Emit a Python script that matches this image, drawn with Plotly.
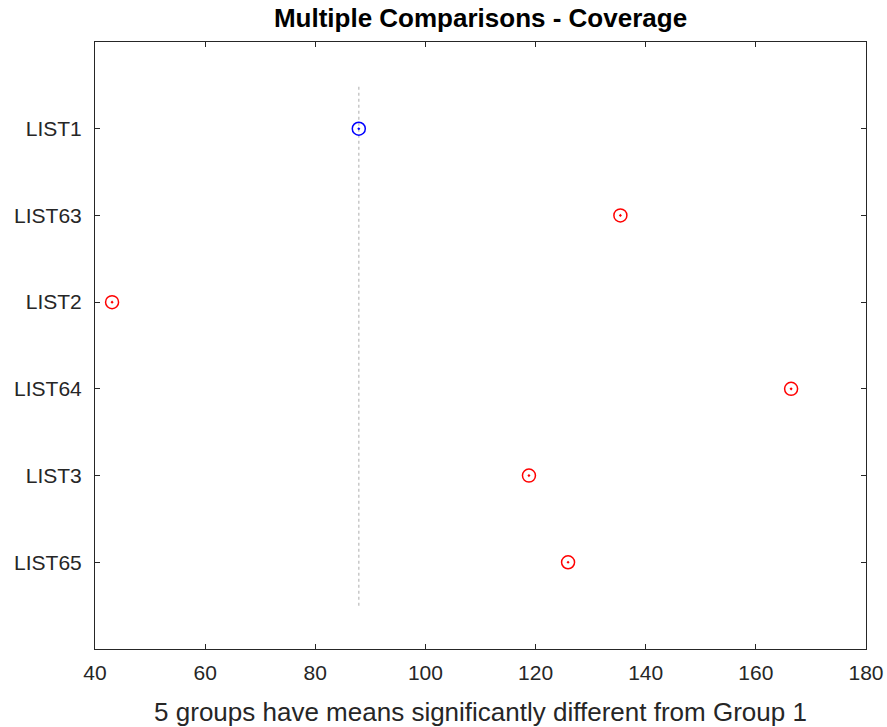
import plotly.graph_objects as go

# Group names, top to bottom
groups = ["LIST1", "LIST63", "LIST2", "LIST64", "LIST3", "LIST65"]
# Estimated group means
means = [87.9, 135.4, 43.1, 166.4, 118.8, 125.9]
# First group is the reference (blue), others differ significantly (red)
colors = ["#0000ff", "#ff0000", "#ff0000", "#ff0000", "#ff0000", "#ff0000"]

x_ticks = [40, 60, 80, 100, 120, 140, 160, 180]
n = len(groups)
ypos = list(range(n, 0, -1))

FONT = "Liberation Sans, Arial"

fig = go.Figure()

# Dotted reference line at the mean of group 1
fig.add_trace(go.Scatter(
    x=[means[0], means[0]], y=[0.5, n + 0.5],
    mode="lines",
    line=dict(color="#c8c8c8", width=1.5, dash="dot"),
    hoverinfo="skip", showlegend=False,
))

fig.add_trace(go.Scatter(
    x=means, y=ypos,
    mode="markers",
    marker=dict(symbol="circle-open-dot", size=13,
                color=colors, line=dict(width=1.5, color=colors)),
    showlegend=False,
))

axis_common = dict(
    showline=True, linecolor="#262626", linewidth=1,
    mirror="ticks", ticks="inside", ticklen=5, tickcolor="#262626",
    showgrid=False, zeroline=False, automargin=False,
    tickfont=dict(family=FONT, size=21, color="#262626"),
)

fig.update_layout(
    width=887, height=727,
    margin=dict(l=95, r=21, t=42, b=78),
    paper_bgcolor="white", plot_bgcolor="white",
    title=dict(text="<b>Multiple Comparisons - Coverage</b>",
               x=0.5, xanchor="center", xref="paper",
               y=1 - 18 / 727, yanchor="middle",
               font=dict(family=FONT, size=26, color="#000000")),
    xaxis=dict(range=[40, 180], tickvals=x_ticks, ticktext=[str(v) for v in x_ticks],
               ticklabelstandoff=5,
               title=dict(text="5 groups have means significantly different from Group 1",
                          font=dict(family=FONT, size=26, color="#262626"),
                          standoff=19),
               **axis_common),
    yaxis=dict(range=[0, n + 1], tickvals=ypos, ticktext=groups,
               ticklabelstandoff=8, **axis_common),
)

fig.write_html("out.html")
